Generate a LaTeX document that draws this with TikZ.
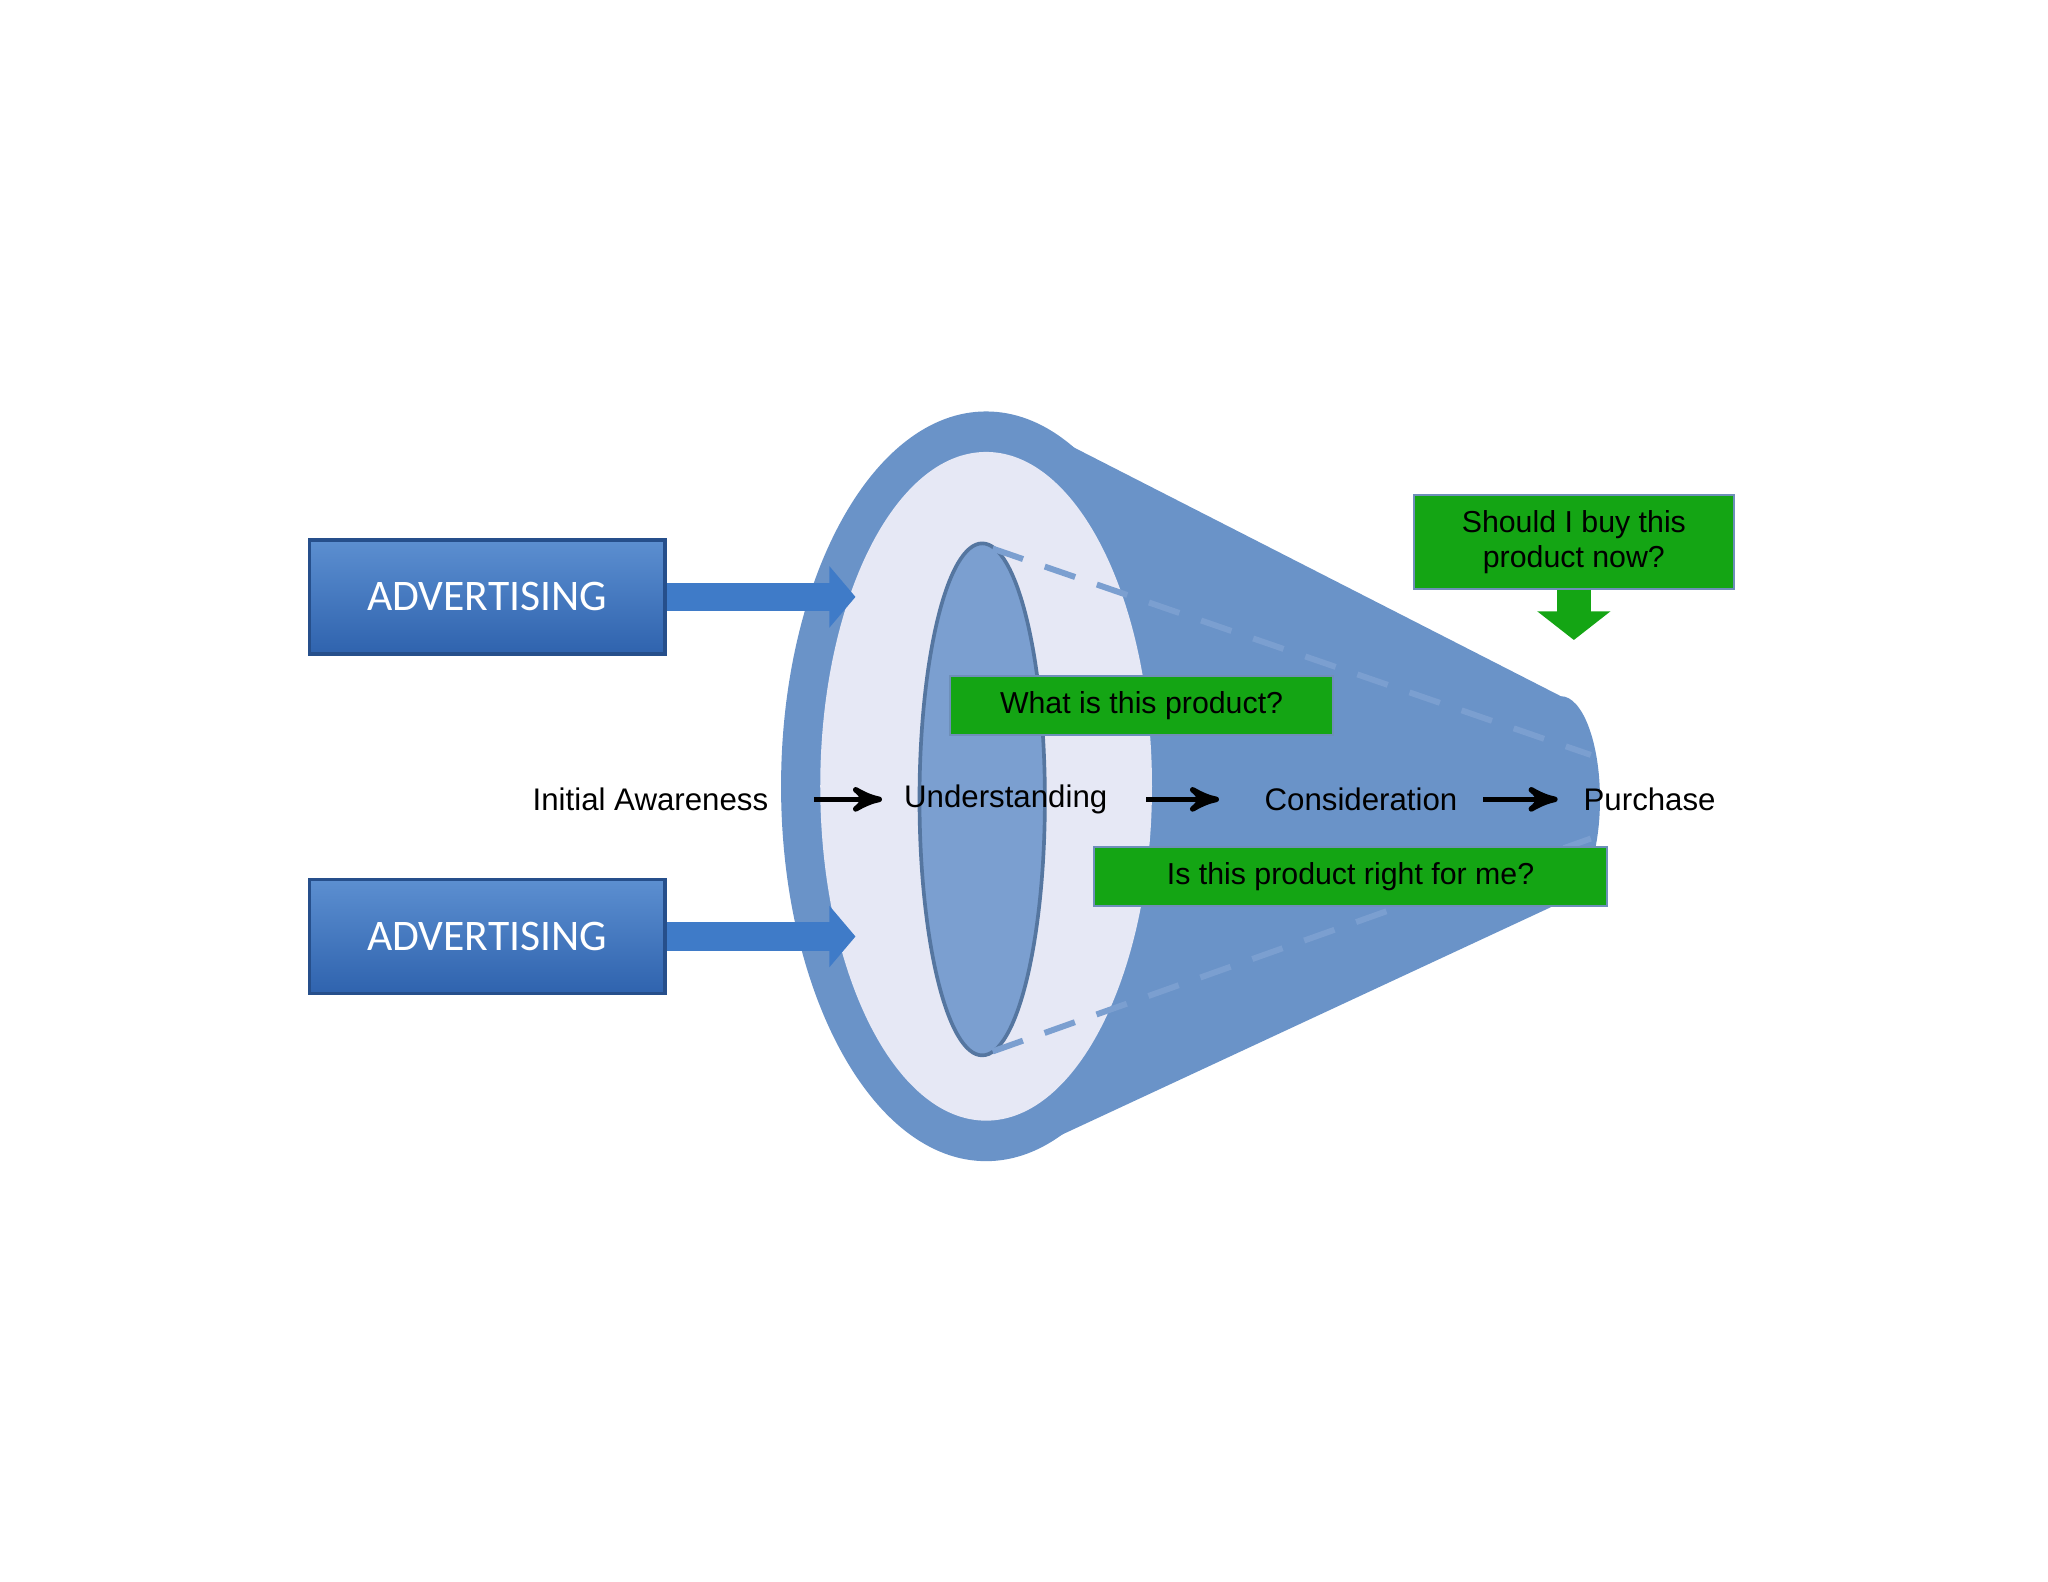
\documentclass[tikz,border=0pt]{standalone}
\usepackage{fontspec}
\setmainfont{Liberation Sans}
\newfontfamily\adfont{Carlito}
\usetikzlibrary{shapes,arrows,arrows.meta,positioning}

\definecolor{conecol}{HTML}{6A93C8}
\definecolor{ringcol}{HTML}{E6E8F5}
\definecolor{corecol}{HTML}{7B9FD0}
\definecolor{adtop}{HTML}{3F7BC8}
\definecolor{adbot}{HTML}{2F63AE}
\definecolor{qgreen}{HTML}{14A514}

\begin{document}
\begin{tikzpicture}[x=0.01cm, y=-0.01cm, thick]
\tikzstyle{adbox}=[rectangle, top color=adtop!85!white, bottom color=adbot, draw=adbot!80!black, minimum width=2.72cm, minimum height=0.87cm, text=white, font=\adfont\fontsize{9.5}{10}\selectfont]
\tikzstyle{qbox}=[rectangle, fill=qgreen, draw=conecol!80!gray, thin, text=black, font=\fontsize{6.6}{7.5}\selectfont, align=center]
\tikzstyle{stage}=[font=\fontsize{6.8}{8}\selectfont, inner sep=1pt]
\tikzstyle{drawstyle}=[very thick, ->, >=stealth']
\tikzstyle{blockarrow}=[line width=0.22cm, draw=adtop, -{Triangle[length=0.2cm, width=0.46cm]}]
\tikzstyle{hidden}=[corecol, line width=1.3pt, dash pattern=on 7pt off 5pt]

\useasboundingbox (0,0) rectangle (1568,1211);

% cone
\fill[conecol] (778,320) -- (1195,533) arc[start angle=-90, end angle=90, x radius=30, y radius=79] -- (778,885) -- cycle;
\fill[conecol] (755,602) ellipse[x radius=157, y radius=287];
\fill[ringcol] (755,602) ellipse[x radius=127, y radius=256];
\draw[conecol!80!black, fill=corecol] (752,612) ellipse[x radius=48, y radius=196];
\draw[hidden] (760,420) -- (1218,578);
\draw[hidden] (760,805) -- (1218,642);

% advertising
\node[adbox] (Ad1) at (373,457) {ADVERTISING};
\node[adbox] (Ad2) at (373,717) {ADVERTISING};
\coordinate (Tip1) at (655,457);
\coordinate (Tip2) at (655,717);
\draw[blockarrow] (Ad1.east) -- (Tip1);
\draw[blockarrow] (Ad2.east) -- (Tip2);

% stages
\node[stage] (Aware) at (498,612) {Initial Awareness};
\node[stage] (Under) at (770,612) {Understanding};
\node[stage] (Consid) at (1042,612) {Consideration};
\node[stage] (Buy) at (1263,612) {Purchase};
\draw[drawstyle] ([xshift=0.3cm]Aware.east) -- ([xshift=-0.12cm]Under.west);
\draw[drawstyle] ([xshift=0.25cm]Under.east) -- ([xshift=-0.3cm]Consid.west);
\draw[drawstyle] ([xshift=0.15cm]Consid.east) -- ([xshift=-0.15cm]Buy.west);

% questions
\node[qbox, minimum width=2.93cm, minimum height=0.43cm] (Q1) at (874,540) {What is this product?};
\node[qbox, minimum width=3.92cm, minimum height=0.43cm] (Q2) at (1034,671) {Is this product right for me?};
\node[qbox, minimum width=2.45cm, minimum height=0.71cm] (Q3) at (1205,415) {Should I buy this\\product now?};
\coordinate (Q3tip) at (1205,490);
\draw[line width=0.26cm, draw=qgreen, -{Triangle[length=0.22cm, width=0.55cm]}] (Q3.south) -- (Q3tip);
\end{tikzpicture}
\end{document}
